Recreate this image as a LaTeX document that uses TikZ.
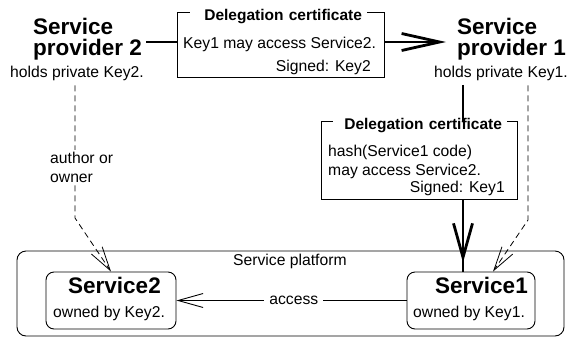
\documentclass[tikz,border=0pt]{standalone}
\usepackage{fontspec}
\setmainfont{Liberation Sans}
\usetikzlibrary{arrows.meta}

\tikzset{
  txt/.style={inner sep=0pt, font=\fontsize{15.7}{19}\selectfont},
  bigtxt/.style={inner sep=0pt, font=\fontsize{22.5}{19.5}\selectfont\bfseries},
  ttl/.style={inner sep=0pt, font=\fontsize{15.5}{18}\selectfont\bfseries},
  certbox/.style={draw, line width=0.9pt, inner sep=0pt},
  certtitle/.style={ttl, fill=white, inner xsep=5pt, inner ysep=1pt, align=right},
  svcbox/.style={draw, line width=0.9pt, rounded corners=8pt, inner sep=0pt,
                 minimum height=57pt},
  thickl/.style={line width=2.8pt},
  dashl/.style={line width=0.8pt, dash pattern=on 6pt off 4pt},
  bigtip/.style={-{Straight Barb[length=38pt,width=17pt,sharp]}},
  smalltip/.style={-{Straight Barb[length=24pt,width=13pt,sharp]}},
}

\begin{document}
\begin{tikzpicture}[x=1pt, y=-1pt]
\useasboundingbox (0,0) rectangle (568,338);

% --- providers ---
\node[bigtxt, anchor=base west] (p2a) at (33,34.5) {Service};
\node[bigtxt, anchor=base west] (p2b) at (33,55.5) {provider 2};
\node[txt, anchor=base west] (p2c) at (10,77) {holds private Key2.};

\node[bigtxt, anchor=base west] (p1a) at (457,34.5) {Service};
\node[bigtxt, anchor=base west] (p1b) at (457,55.5) {provider 1};
\node[txt, anchor=base west] (p1c) at (434,77) {holds private Key1.};

% --- first delegation certificate ---
\node[certbox, minimum width=207pt, minimum height=65pt] (cert1) at (280.5,44.5) {};
\node[certtitle, text width=167pt, anchor=base] (cert1t) at (278.5,20) {Delegation certificate};
\node[txt, anchor=base west] (cert1a) at (183,48) {Key1 may access Service2.};
\node[txt, anchor=base east] (cert1b) at (371,71) {Signed: Key2};

% --- second delegation certificate ---
\node[certbox, minimum width=196pt, minimum height=78pt] (cert2) at (419,160) {};
\node[certtitle, text width=164pt, anchor=base] (cert2t) at (420,129) {Delegation certificate};
\node[txt, anchor=base west] (cert2a) at (328,156.5) {hash(Service1 code)};
\node[txt, anchor=base west] (cert2b) at (328,175) {may access Service2.};
\node[txt, anchor=base east] (cert2c) at (505,192) {Signed: Key1};

% --- service platform ---
\node[draw, line width=0.9pt, rounded corners=9pt, minimum width=547pt,
      minimum height=85pt, inner sep=0pt] (plat) at (290.5,293.5) {};
\node[txt, anchor=base west] (platl) at (233,265) {Service platform};

\node[svcbox, minimum width=130pt] (s2) at (111,300.5) {};
\node[bigtxt, anchor=base west] (s2a) at (68,293.3) {Service2};
\node[txt, anchor=base west] (s2b) at (53,317) {owned by Key2.};

\node[svcbox, minimum width=128pt] (s1) at (471,300.5) {};
\node[bigtxt, anchor=base west] (s1a) at (435,293.3) {Service1};
\node[txt, anchor=base west] (s1b) at (413,317) {owned by Key1.};

% --- routing helpers ---
\coordinate (certrow) at (0,42);
\coordinate (vcol) at (463,0);
\coordinate (dcolR) at (528,0);
\coordinate (bendR) at (528,220);
\coordinate (dR) at (493,0);
\coordinate (dcolL) at (75,0);
\coordinate (bendL) at (75,218);

% --- delegation chain ---
\draw[thickl, shorten <=4pt] (p2b.east |- certrow) -- (cert1.west |- certrow);
\draw[thickl, bigtip, shorten >=11pt] (cert1.east |- certrow) -- (p1a.west |- certrow);
\draw[thickl, shorten <=4.5pt] (p1c.south -| vcol) -- (cert2.north -| vcol);
\draw[thickl] (cert2.south -| vcol) -- (s1.north -| vcol);
\draw[thickl, -{Straight Barb[length=34pt,width=19pt,sharp]}, shorten >=9pt]
  (cert2.south -| vcol) -- (s1.north -| vcol);

% --- ownership ---
\draw[dashl, smalltip, shorten <=5pt] (p1c.south -| dcolR) -- (bendR) -- (s1.north -| dR);
\draw[dashl, smalltip, shorten <=5pt] (p2c.south -| dcolL) -- (bendL) -- (s2.north);
\node[txt, fill=white, align=left, inner sep=2pt, anchor=north west] (own) at (48,150)
  {author or\\owner};

% --- access ---
\draw[line width=0.9pt, -{Straight Barb[length=25pt,width=14pt,sharp]}] (s1.west) --
  node[txt, fill=white, inner xsep=5pt, inner ysep=2pt, pos=0.49] (acc) {access} (s2.east);
\end{tikzpicture}
\end{document}
